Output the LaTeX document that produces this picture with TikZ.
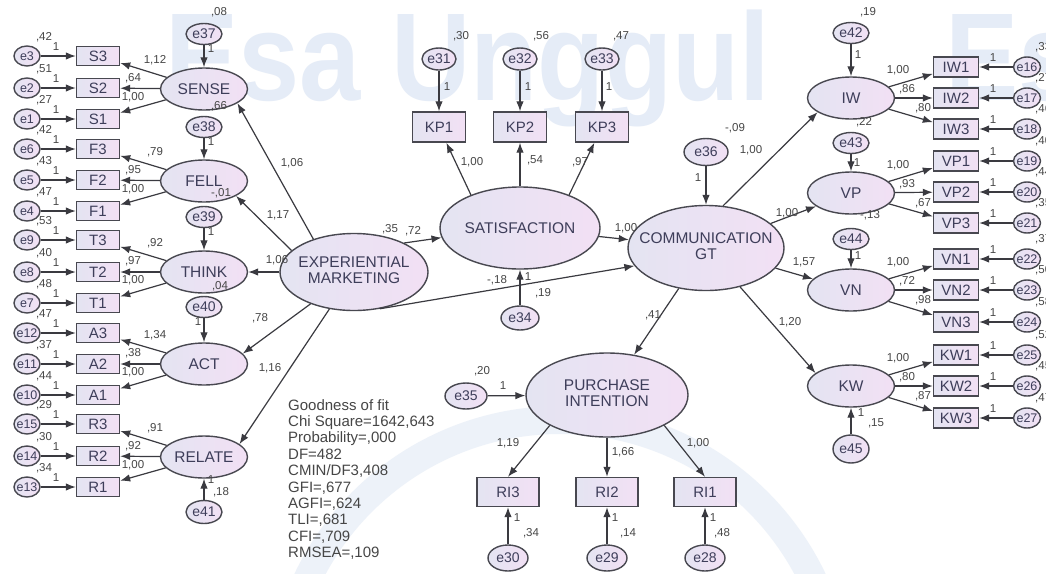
\documentclass[tikz,border=0pt]{standalone}
\usepackage{fontspec}
\setmainfont{Liberation Sans}
\usetikzlibrary{arrows.meta,shapes.geometric}
\definecolor{lavL}{RGB}{228,228,242}
\definecolor{lavR}{RGB}{242,224,244}
\definecolor{edgec}{RGB}{72,72,80}
\definecolor{txtc}{RGB}{62,62,90}
\definecolor{labc}{RGB}{70,70,70}
\definecolor{wmc}{RGB}{229,236,247}
\newcommand\zbox[1]{\makebox[0pt]{#1}}
\newcommand\twoline[2]{\makebox[0pt]{\begin{tabular}{@{}c@{}}#1\\#2\end{tabular}}}
\begin{document}
\begin{tikzpicture}[x=1pt,y=-1pt,
  lavfill/.style={left color=lavL, right color=lavR},
  latshape/.style={ellipse, draw=edgec, line width=1.4pt, lavfill, inner sep=0pt, text=txtc},
  latent/.style={latshape, minimum width=87pt, minimum height=42pt, font=\fontsize{15.5}{16}\selectfont},
  bigl/.style={latshape, font=\fontsize{15.5}{16}\selectfont},
  errbig/.style={latshape, minimum width=36pt, minimum height=21pt, font=\fontsize{14}{14}\selectfont},
  errsmall/.style={latshape, minimum width=26pt, minimum height=20pt, font=\fontsize{12.5}{13}\selectfont},
  obsbox/.style={rectangle, draw=edgec, line width=1.4pt, lavfill, inner sep=0pt, text=txtc, font=\fontsize{15}{15}\selectfont},
  arr/.style={draw=edgec!80!black, line width=1.2pt, -{Latex[length=10pt,width=7.5pt]}},
  lab/.style={font=\fontsize{11.5}{12}\selectfont, text=labc, inner sep=0pt},
]
\useasboundingbox (0,0) rectangle (1046,573);
\fill[white] (0,0) rectangle (1046,573);
% watermark
\node[anchor=base west, font=\fontsize{125}{125}\selectfont\bfseries, text=wmc, xscale=0.88, inner sep=0] (wm1) at (165,100) {Esa Unggul};
\node[anchor=base west, font=\fontsize{125}{125}\selectfont\bfseries, text=wmc, xscale=0.88, inner sep=0] (wm2) at (945,100) {Es};
\draw[wmc!70!white, line width=28pt] (560,700) circle [radius=280];

% ---------- left block ----------
\node[latent] (SENSE) at (204,89) {\zbox{SENSE}};
\node[latent] (FELL) at (204,181) {\zbox{FELL}};
\node[latent] (THINK) at (204,272) {\zbox{THINK}};
\node[latent] (ACT) at (204,364) {\zbox{ACT}};
\node[latent] (RELATE) at (204,457) {\zbox{RELATE}};

\node[errbig] (e37) at (204,34) {\zbox{e37}};
\node[errbig] (e38) at (204,127) {\zbox{e38}};
\node[errbig] (e39) at (204,217) {\zbox{e39}};
\node[errbig] (e40) at (204,307) {\zbox{e40}};
\node[errbig, minimum height=23pt] (e41) at (204,512) {\zbox{e41}};
\draw[arr] (e37) -- (SENSE);
\draw[arr] (e38) -- (FELL);
\draw[arr] (e39) -- (THINK);
\draw[arr] (e40) -- (ACT);
\draw[arr] (e41) -- (RELATE);
\node[lab] at (219,12) {,08};  \node[lab] at (211,49) {1};
\node[lab] at (219,106) {,66}; \node[lab] at (211,142) {1};
\node[lab] at (221,193) {-,01}; \node[lab] at (211,232) {1};
\node[lab] at (220,286) {,04}; \node[lab] at (198,322) {1};
\node[lab] at (221,492) {,18}; \node[lab] at (211,480) {1};

\foreach \b/\y/\e/\v in {S3/56/e3/{,42}, S2/88/e2/{,51}, S1/119/e1/{,27},
  F3/149/e6/{,42}, F2/180/e5/{,43}, F1/211/e4/{,47},
  T3/240/e9/{,53}, T2/272/e8/{,40}, T1/303/e7/{,48},
  A3/333/e12/{,47}, A2/364/e11/{,37}, A1/395/e10/{,44},
  R3/424/e15/{,29}, R2/456/e14/{,30}, R1/487/e13/{,34}}{
  \node[obsbox, minimum width=43pt, minimum height=19pt] (\b) at (98,\y) {\b};
  \node[errsmall] (\e) at (27,\y) {\zbox{\e}};
  \draw[arr] (\e) -- (\b);
  \node[lab] at (44,\y-19) {\v};
  \node[lab] at (56,\y-9) {1};
}
\foreach \l/\a/\b/\c in {SENSE/S3/S2/S1, FELL/F3/F2/F1, THINK/T3/T2/T1, ACT/A3/A2/A1, RELATE/R3/R2/R1}{
  \draw[arr] (\l) -- (\a);
  \draw[arr] (\l) -- (\b);
  \draw[arr] (\l) -- (\c);
}
\foreach \y/\p/\q in {89/{1,12}/{,64}, 181/{,79}/{,95}, 272/{,92}/{,97}, 364/{1,34}/{,38}, 457/{,91}/{,92}}{
  \node[lab] at (155,\y-29) {\p};
  \node[lab] at (133,\y-11) {\q};
  \node[lab] at (133,\y+8) {1,00};
}

% ---------- experiential marketing ----------
\node[bigl, minimum width=148pt, minimum height=77pt] (EXP) at (354,272) {\twoline{EXPERIENTIAL}{MARKETING}};
\draw[arr] (EXP.141) -- (SENSE.-23);
\draw[arr] (EXP.161) -- (FELL.-25);
\draw[arr] (EXP) -- (THINK);
\draw[arr] (EXP) -- (ACT.15);
\draw[arr] (EXP) -- (RELATE.20);
\node[lab] at (292,163) {1,06};
\node[lab] at (278,215) {1,17};
\node[lab] at (277,260) {1,06};
\node[lab] at (260,318) {,78};
\node[lab] at (270,368) {1,16};

% ---------- satisfaction ----------
\node[bigl, minimum width=160pt, minimum height=82pt] (SAT) at (520,228) {\zbox{SATISFACTION}};
\node[obsbox, minimum width=53pt, minimum height=30pt] (KP1) at (439,127) {KP1};
\node[obsbox, minimum width=53pt, minimum height=30pt] (KP2) at (520,127) {KP2};
\node[obsbox, minimum width=53pt, minimum height=30pt] (KP3) at (602,127) {KP3};
\node[errbig, minimum width=34pt, minimum height=22pt] (e31) at (439,59) {\zbox{e31}};
\node[errbig, minimum width=34pt, minimum height=22pt] (e32) at (520,59) {\zbox{e32}};
\node[errbig, minimum width=34pt, minimum height=22pt] (e33) at (602,59) {\zbox{e33}};
\draw[arr] (e31) -- (KP1);
\draw[arr] (e32) -- (KP2);
\draw[arr] (e33) -- (KP3);
\draw[arr] (SAT.146) -- (KP1);
\draw[arr] (SAT) -- (KP2);
\draw[arr] (SAT.34) -- (KP3);
\node[lab] at (461,36) {,30}; \node[lab] at (541,36) {,56}; \node[lab] at (621,36) {,47};
\node[lab] at (447,87) {1}; \node[lab] at (528,87) {1}; \node[lab] at (609,87) {1};
\node[lab] at (472,162) {1,00}; \node[lab] at (535,160) {,54}; \node[lab] at (580,162) {,97};
\node[errbig, minimum width=38pt, minimum height=24pt] (e34) at (520,318) {\zbox{e34}};
\draw[arr] (e34) -- (SAT);
\node[lab] at (528,277) {1}; \node[lab] at (543,293) {,19};
\draw[arr] (EXP.30) -- (SAT.187);
\node[lab] at (390,229) {,35}; \node[lab] at (413,231) {,72};

% ---------- communication ----------
\node[bigl, minimum width=156pt, minimum height=85pt] (COMM) at (706,248) {\twoline{COMMUNICATION}{GT}};
\node[errbig, minimum width=44pt, minimum height=27pt] (e36) at (706,152) {\zbox{e36}};
\draw[arr] (e36) -- (COMM);
\node[lab] at (735,128) {-,09}; \node[lab] at (698,178) {1};
\draw[arr] (SAT) -- (COMM);
\node[lab] at (626,228) {1,00};
\draw[arr] (EXP.-55) -- (COMM.194);
\node[lab] at (497,280) {-,18};

% ---------- right block ----------
\node[latent] (IW) at (851,98) {\zbox{IW}};
\node[latent] (VP) at (851,193) {\zbox{VP}};
\node[latent] (VN) at (851,290) {\zbox{VN}};
\node[latent] (KW) at (851,386) {\zbox{KW}};
\node[errbig] (e42) at (851,33) {\zbox{e42}};
\node[errbig] (e43) at (851,143) {\zbox{e43}};
\node[errbig] (e44) at (851,239) {\zbox{e44}};
\node[errbig, minimum height=28pt] (e45) at (851,449) {\zbox{e45}};
\draw[arr] (e42) -- (IW);
\draw[arr] (e43) -- (VP);
\draw[arr] (e44) -- (VN);
\draw[arr] (e45) -- (KW);
\node[lab] at (868,12) {,19}; \node[lab] at (858,55) {1};
\node[lab] at (864,122) {,22}; \node[lab] at (857,163) {1};
\node[lab] at (870,215) {-,13}; \node[lab] at (858,256) {1};
\node[lab] at (861,413) {1}; \node[lab] at (876,423) {,15};

\draw[arr] (COMM.68) -- (IW.203);
\draw[arr] (COMM) -- (VP);
\draw[arr] (COMM) -- (VN);
\draw[arr] (COMM) -- (KW.160);
\node[lab] at (751,150) {1,00};
\node[lab] at (787,213) {1,00};
\node[lab] at (804,262) {1,57};
\node[lab] at (790,322) {1,20};

\foreach \b/\y/\e/\v in {IW1/67/e16/{,33}, IW2/98/e17/{,27}, IW3/129/e18/{,46},
  VP1/161/e19/{,40}, VP2/192/e20/{,44}, VP3/223/e21/{,35},
  VN1/259/e22/{,37}, VN2/290/e23/{,50}, VN3/322/e24/{,58},
  KW1/355/e25/{,52}, KW2/386/e26/{,45}, KW3/418/e27/{,47}}{
  \node[obsbox, minimum width=45pt, minimum height=20pt] (\b) at (956,\y) {\b};
  \node[errsmall, minimum width=27pt] (\e) at (1027,\y) {\zbox{\e}};
  \draw[arr] (\e) -- (\b);
  \node[lab, anchor=west] at (1035,\y-20) {\v};
  \node[lab] at (993,\y-9) {1};
}
\foreach \l/\a/\b/\c in {IW/IW1/IW2/IW3, VP/VP1/VP2/VP3, VN/VN1/VN2/VN3, KW/KW1/KW2/KW3}{
  \draw[arr] (\l) -- (\a);
  \draw[arr] (\l) -- (\b);
  \draw[arr] (\l) -- (\c);
}
\foreach \y/\p/\q in {98/{,86}/{,80}, 193/{,93}/{,67}, 290/{,72}/{,98}, 386/{,80}/{,87}}{
  \node[lab] at (898,\y-28) {1,00};
  \node[lab] at (907,\y-9) {\p};
  \node[lab] at (923,\y+10) {\q};
}

% ---------- purchase intention ----------
\node[bigl, minimum width=162pt, minimum height=84pt] (PI) at (607,395) {\twoline{PURCHASE}{INTENTION}};
\draw[arr] (COMM) -- (PI);
\node[lab] at (653,315) {,41};
\node[errbig, minimum width=42pt, minimum height=26pt] (e35) at (466,396) {\zbox{e35}};
\draw[arr] (e35) -- (PI);
\node[lab] at (482,371) {,20}; \node[lab] at (503,386) {1};
\node[obsbox, minimum width=62pt, minimum height=29pt] (RI3) at (508,492) {RI3};
\node[obsbox, minimum width=62pt, minimum height=29pt] (RI2) at (607,492) {RI2};
\node[obsbox, minimum width=62pt, minimum height=29pt] (RI1) at (705,492) {RI1};
\node[errbig, minimum width=40pt, minimum height=26pt] (e30) at (508,558) {\zbox{e30}};
\node[errbig, minimum width=40pt, minimum height=26pt] (e29) at (607,558) {\zbox{e29}};
\node[errbig, minimum width=40pt, minimum height=26pt] (e28) at (705,558) {\zbox{e28}};
\draw[arr] (PI.208) -- (RI3.north);
\draw[arr] (PI) -- (RI2);
\draw[arr] (PI.-28) -- (RI1.north);
\draw[arr] (e30) -- (RI3);
\draw[arr] (e29) -- (RI2);
\draw[arr] (e28) -- (RI1);
\node[lab] at (508,443) {1,19}; \node[lab] at (623,452) {1,66}; \node[lab] at (698,443) {1,00};
\node[lab] at (517,518) {1}; \node[lab] at (615,518) {1}; \node[lab] at (713,518) {1};
\node[lab] at (531,533) {,34}; \node[lab] at (628,533) {,14}; \node[lab] at (722,533) {,48};

% ---------- fit indices ----------
\node[anchor=north west, align=left, font=\fontsize{15}{16.4}\selectfont, text=labc, inner sep=0] (gof) at (288,399)
  {Goodness of fit\\Chi Square=1642,643\\Probability=,000\\DF=482\\CMIN/DF3,408\\GFI=,677\\AGFI=,624\\TLI=,681\\CFI=,709\\RMSEA=,109};
\end{tikzpicture}
\end{document}
